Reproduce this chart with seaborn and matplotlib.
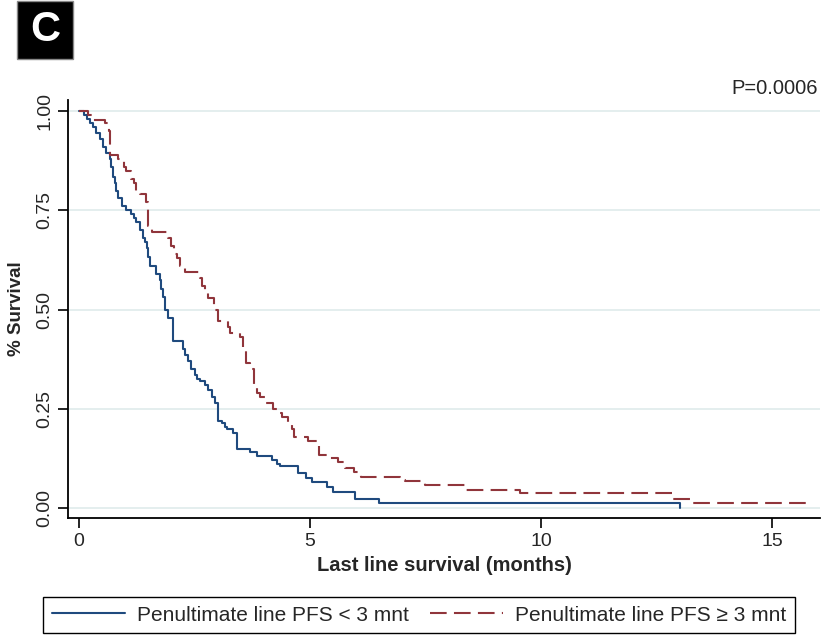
import pandas as pd
import numpy as np
import matplotlib.pyplot as plt
import seaborn as sns
from matplotlib.patches import Rectangle

# Kaplan-Meier steps (time in months, survival after the step)
low_label = "Penultimate line PFS < 3 mnt"
high_label = "Penultimate line PFS \u2265 3 mnt"

low_time = [0, 0.11, 0.17, 0.23, 0.30, 0.375, 0.45, 0.52, 0.59, 0.66, 0.70, 0.74,
            0.78, 0.81, 0.84, 0.92, 1.02, 1.13, 1.20, 1.24, 1.31, 1.39, 1.43, 1.46,
            1.49, 1.53, 1.67, 1.75, 1.78, 1.82, 1.85, 1.93, 2.03, 2.25, 2.30, 2.36,
            2.42, 2.50, 2.56, 2.62, 2.72, 2.80, 2.88, 2.95, 3.01, 3.09, 3.15, 3.20,
            3.34, 3.41, 3.70, 3.85, 4.18, 4.28, 4.35, 4.74, 4.92, 5.04, 5.37, 5.50,
            5.97, 6.50, 13.0]
low_surv = [1.0, 0.99, 0.98, 0.97, 0.96, 0.945, 0.93, 0.91, 0.895, 0.88, 0.86, 0.835,
            0.82, 0.80, 0.78, 0.76, 0.75, 0.74, 0.73, 0.72, 0.70, 0.68, 0.67, 0.655,
            0.633, 0.61, 0.59, 0.574, 0.553, 0.532, 0.50, 0.48, 0.42, 0.40, 0.385, 0.37,
            0.35, 0.335, 0.325, 0.32, 0.31, 0.297, 0.28, 0.265, 0.22, 0.214, 0.205, 0.20,
            0.19, 0.15, 0.14, 0.13, 0.12, 0.11, 0.106, 0.088, 0.075, 0.065, 0.053, 0.04,
            0.023, 0.013, 0.0]

high_time = [0, 0.20, 0.30, 0.57, 0.65, 0.67, 0.84, 0.98, 1.02, 1.12, 1.18, 1.24,
             1.32, 1.44, 1.50, 1.58, 1.93, 1.98, 2.06, 2.12, 2.19, 2.30, 2.62, 2.66,
             2.73, 2.80, 2.93, 3.00, 3.22, 3.27, 3.48, 3.55, 3.62, 3.70, 3.78, 3.85,
             3.92, 4.02, 4.20, 4.28, 4.40, 4.52, 4.60, 4.65, 4.95, 5.15, 5.20, 5.37,
             5.60, 5.75, 5.95, 6.10, 6.95, 7.05, 7.50, 8.35, 9.55, 12.84, 13.30, 15.78]
high_surv = [1.0, 0.99, 0.977, 0.97, 0.95, 0.89, 0.88, 0.86, 0.85, 0.83, 0.82, 0.80,
             0.79, 0.77, 0.71, 0.695, 0.68, 0.66, 0.64, 0.63, 0.61, 0.595, 0.58, 0.56,
             0.55, 0.53, 0.50, 0.47, 0.455, 0.44, 0.43, 0.40, 0.365, 0.35, 0.31, 0.29,
             0.28, 0.265, 0.25, 0.24, 0.23, 0.21, 0.20, 0.18, 0.17, 0.164, 0.134, 0.126,
             0.115, 0.10, 0.09, 0.078, 0.07, 0.068, 0.058, 0.045, 0.037, 0.023, 0.013, 0.013]

y_ticks = [0, 0.25, 0.5, 0.75, 1.0]
y_tick_labels = ["0.00", "0.25", "0.50", "0.75", "1.00"]
x_ticks = [0, 5, 10, 15]
p_text = "P=0.0006"

df = pd.concat([
    pd.DataFrame({"time": low_time, "surv": low_surv, "group": low_label}),
    pd.DataFrame({"time": high_time, "surv": high_surv, "group": high_label}),
])

sns.set_style("white")
plt.rcParams["font.family"] = ["Liberation Sans", "DejaVu Sans"]

fig = plt.figure(figsize=(8.27, 6.35), dpi=100)
ax = fig.add_axes([0.0822, 0.1843, 0.9093, 0.6582])

for yt in y_ticks:
    ax.axhline(yt, color="#e2eded", lw=1.3, zorder=0)

sns.lineplot(data=df, x="time", y="surv", hue="group", style="group",
             palette={low_label: "#1f4a7e", high_label: "#90353b"},
             dashes={low_label: "", high_label: (8, 3.5)},
             estimator=None, sort=False, drawstyle="steps-post",
             lw=1.5, ax=ax)

ax.set_xlim(-0.24, 16.04)
ax.set_ylim(-0.025, 1.028)
ax.set_xticks(x_ticks)
ax.set_yticks(y_ticks)
ax.set_yticklabels(y_tick_labels, rotation=90, va="center")
ax.tick_params(axis="both", direction="out", length=7, width=1.2,
               labelsize=14, color="black", left=True, bottom=True)
ax.set_xlabel("Last line survival (months)", fontsize=14.5, fontweight="bold", labelpad=5)
ax.set_ylabel("% Survival", fontsize=13.5, fontweight="bold", labelpad=8)
sns.despine(ax=ax)
for s in ["left", "bottom"]:
    ax.spines[s].set_color("black")
    ax.spines[s].set_linewidth(1.3)

handles, labels = ax.get_legend_handles_labels()
ax.get_legend().remove()
fig.legend(handles, labels, loc="lower center", ncol=2,
           bbox_to_anchor=(0.5067, 0.003), borderaxespad=0, fontsize=15,
           frameon=True, fancybox=False, edgecolor="black", framealpha=1,
           handlelength=3.5, handletextpad=0.6, borderpad=0.4, columnspacing=1.0)

fig.add_artist(Rectangle((0.0206, 0.907), 0.0677, 0.0913, transform=fig.transFigure,
                         facecolor="black", edgecolor="#888888", lw=1))
fig.text(0.0544, 0.9528, "C", color="white", fontsize=30, fontweight="bold",
         ha="center", va="center")
fig.text(0.989, 0.861, p_text, fontsize=14.5, ha="right", va="center")

plt.savefig("out.png", dpi=100)
